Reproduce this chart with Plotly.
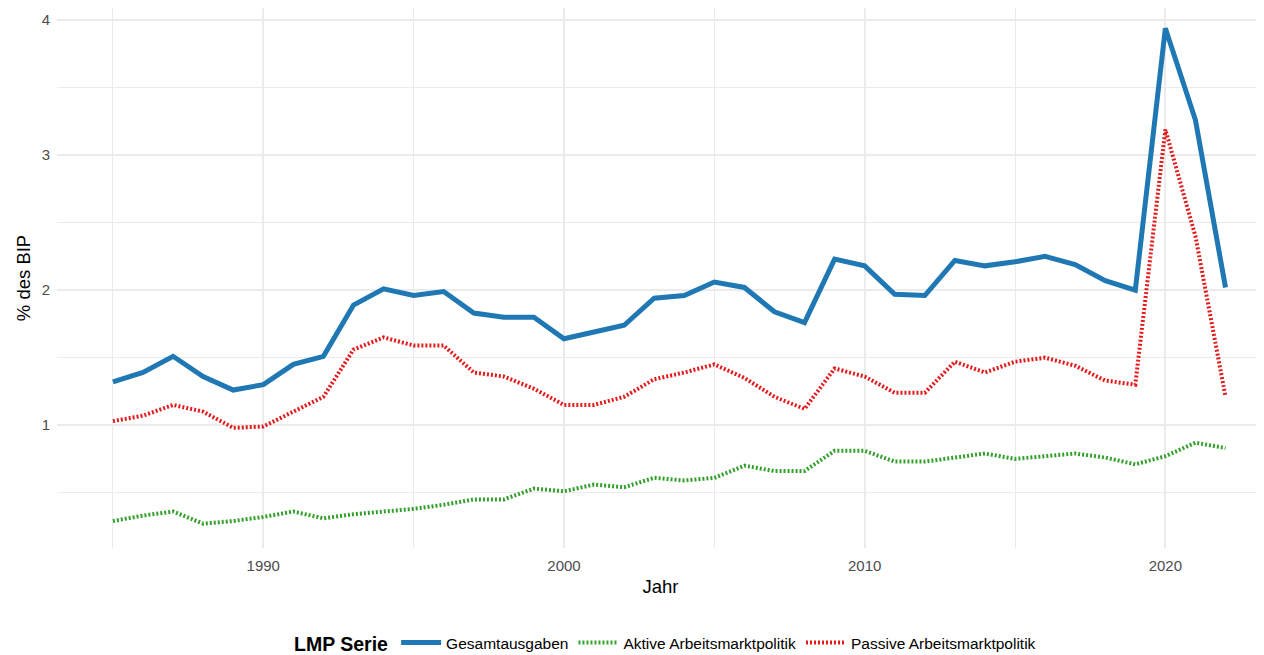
import plotly.graph_objects as go

years = list(range(1985, 2023))

gesamt = [1.32, 1.39, 1.51, 1.36, 1.26, 1.30, 1.45, 1.51, 1.89, 2.01,
          1.96, 1.99, 1.83, 1.80, 1.80, 1.64, 1.69, 1.74, 1.94, 1.96,
          2.06, 2.02, 1.84, 1.76, 2.23, 2.18, 1.97, 1.96, 2.22, 2.18,
          2.21, 2.25, 2.19, 2.07, 2.00, 3.94, 3.26, 2.02]

aktive = [0.29, 0.33, 0.36, 0.27, 0.29, 0.32, 0.36, 0.31, 0.34, 0.36,
          0.38, 0.41, 0.45, 0.45, 0.53, 0.51, 0.56, 0.54, 0.61, 0.59,
          0.61, 0.70, 0.66, 0.66, 0.81, 0.81, 0.73, 0.73, 0.76, 0.79,
          0.75, 0.77, 0.79, 0.76, 0.71, 0.77, 0.87, 0.83]

passive = [1.03, 1.07, 1.15, 1.10, 0.98, 0.99, 1.10, 1.21, 1.56, 1.65,
           1.59, 1.59, 1.39, 1.36, 1.27, 1.15, 1.15, 1.21, 1.34, 1.39,
           1.45, 1.35, 1.21, 1.12, 1.42, 1.36, 1.24, 1.24, 1.47, 1.39,
           1.47, 1.50, 1.44, 1.33, 1.30, 3.19, 2.40, 1.21]

series = [
    ("Gesamtausgaben", gesamt, "#1F78B4", "solid", 5),
    ("Aktive Arbeitsmarktpolitik", aktive, "#33A02C", "2px,2px", 4),
    ("Passive Arbeitsmarktpolitik", passive, "#E31A1C", "2px,2px", 4),
]

fig = go.Figure()
for name, vals, color, dash, width in series:
    fig.add_trace(go.Scatter(
        x=years, y=vals, mode="lines", name=name,
        line=dict(color=color, width=width, dash=dash),
    ))

grid = "#EBEBEB"
# page body has an 8px margin, so the figure is sized to the visible area
fig.update_layout(
    width=1256, height=647,
    paper_bgcolor="white", plot_bgcolor="white",
    font=dict(family="Liberation Sans, Arial, sans-serif", color="#4D4D4D", size=15),
    margin=dict(l=49, r=0, t=0, b=107),
    showlegend=True,
    legend=dict(
        orientation="h", x=0.505, xanchor="center",
        yref="container", y=0.017, yanchor="middle",
        title=dict(text="<b>LMP Serie</b>", font=dict(size=19.5, color="black"), side="left"),
        font=dict(size=15.5, color="black"),
        itemwidth=40,
    ),
)

fig.update_xaxes(
    range=[1983.14, 2023.28],
    tickvals=[1990, 2000, 2010, 2020],
    showgrid=True, gridcolor=grid, gridwidth=2,
    minor=dict(tickvals=[1985, 1995, 2005, 2015], showgrid=True, gridcolor=grid, gridwidth=1),
    zeroline=False, showline=False, ticks="",
    automargin=False, ticklabelstandoff=7,
    title=dict(text="Jahr", font=dict(size=18.5, color="black"), standoff=7),
    tickfont=dict(size=15, color="#4D4D4D"),
)
fig.update_yaxes(
    range=[0.09, 4.09],
    tickvals=[1, 2, 3, 4],
    showgrid=True, gridcolor=grid, gridwidth=2,
    minor=dict(tickvals=[0.5, 1.5, 2.5, 3.5], showgrid=True, gridcolor=grid, gridwidth=1),
    zeroline=False, showline=False, ticks="",
    automargin=False, ticklabelstandoff=6,
    title=dict(text="% des BIP", font=dict(size=18.5, color="black"), standoff=6),
    tickfont=dict(size=15, color="#4D4D4D"),
)

fig.write_html("out.html")
